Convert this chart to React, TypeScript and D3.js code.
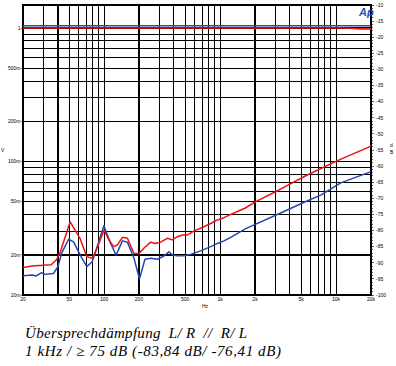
import * as d3 from "d3";

// crosstalk curves (Hz / dB, right axis)
const redFreq = [20, 24, 35, 39, 42, 51, 62, 71, 79, 87, 100, 110, 121, 130, 144, 159, 181, 200, 220, 252, 278, 307, 351, 388, 428, 473, 522, 596, 680, 830, 948, 1080, 1234, 1650, 2030, 3220, 5480, 10280, 20000];
const redDb = [-91.5, -91.0, -90.6, -89.0, -86.6, -77.3, -82.4, -88.1, -88.6, -85.5, -79.8, -82.9, -85.0, -84.5, -82.1, -82.4, -87.1, -87.1, -85.5, -83.6, -84.0, -83.6, -82.4, -82.9, -81.9, -81.4, -81.4, -80.1, -79.3, -77.8, -76.7, -76.0, -75.0, -73.0, -71.0, -67.4, -63.0, -58.3, -53.8];

const blueFreq = [20, 24, 26, 28.7, 31, 36.7, 40, 43, 49.4, 54.6, 62.3, 71, 79, 90, 99.6, 114, 127, 144, 159, 181, 202, 225, 252, 288, 328, 362, 388, 428, 488, 558, 680, 830, 948, 1080, 1234, 1664, 3220, 5480, 7380, 10970, 20000];
const blueDb = [-94.0, -93.8, -94.1, -93.1, -93.6, -93.3, -91.2, -87.1, -82.7, -83.5, -87.6, -91.2, -89.7, -83.5, -78.5, -84.0, -87.6, -83.2, -83.6, -88.6, -95.0, -88.9, -88.6, -88.9, -87.9, -86.6, -87.6, -87.8, -87.8, -87.4, -86.3, -85.0, -84.0, -83.2, -82.1, -79.4, -74.8, -71.0, -69.0, -65.2, -61.7];

// level curves (Hz / V, left axis)
const levelFreq = [20, 1000, 12000, 16000, 20000];
const levelRedV = [1.0, 1.0, 1.0, 0.985, 0.985];
const levelBlueV = [1.04, 1.04, 1.04, 1.04, 1.04];

const xTickLabels = ["20", "50", "100", "200", "500", "1k", "2k", "5k", "10k", "20k"];
const xTickValues = [20, 50, 100, 200, 500, 1000, 2000, 5000, 10000, 20000];
const vTickLabels = ["1", "500m", "200m", "100m", "50m", "20m", "10m"];
const vTickValues = [1, 0.5, 0.2, 0.1, 0.05, 0.02, 0.01];

const titleLines = ["Übersprechdämpfung  L/ R  //  R/ L", "1 kHz / ≥ 75 dB (-83,84 dB/ -76,41 dB)"];
const titleWidths = [222, 256];

const left = 23;
const right = 371;
const top = 5;
const bottom = 295;

export default function App() {
  const x = d3.scaleLog().domain([20, 20000]).range([left, right]);
  const yV = d3.scaleLog().domain([0.01, 1]).range([bottom, 28]);
  const yDb = d3.scaleLinear().domain([-100, -10]).range([bottom, top]);

  const xGrid = x.ticks().filter(f => f > 20 && f < 20000);
  const vGrid = yV.ticks().filter(v => v > 0.01);

  const dbLine = d3.line<[number, number]>().x(d => x(d[0])).y(d => yDb(d[1]));
  const vLine = d3.line<[number, number]>().x(d => x(d[0])).y(d => yV(d[1]));

  const zip = (a: number[], b: number[]) => a.map((v, i) => [v, b[i]] as [number, number]);

  const dbMajor = d3.range(-100, -9, 5);
  const dbMinor = d3.range(-100, -9, 1);

  const tiny = { fontFamily: "Liberation Sans, Arial, sans-serif", fontSize: 5, fill: "#000" };

  return (
    <svg width={396} height={366} style={{ position: "absolute", left: 0, top: 0, background: "#fff" }}>
      <rect x={0} y={0} width={396} height={366} fill="#fff" />
      <g shapeRendering="crispEdges">
        {xGrid.map(f => (
          <line key={"xg" + f} x1={x(f)} x2={x(f)} y1={top} y2={bottom}
            stroke="#000" strokeWidth={f === 40 ? 2.2 : 1.1} />
        ))}
        {vGrid.map(v => (
          <line key={"vg" + v} x1={left} x2={right} y1={yV(v)} y2={yV(v)}
            stroke="#000" strokeWidth={Math.abs(v - 0.02) < 1e-9 ? 2.2 : 1.1} />
        ))}
        <rect x={left} y={top} width={right - left} height={bottom - top} fill="none" stroke="#000" strokeWidth={1.1} />

        {/* right dB axis ticks */}
        {dbMinor.map(d => (
          <line key={"mn" + d} x1={right} x2={right + (d % 5 === 0 ? 3 : 1.5)} y1={yDb(d)} y2={yDb(d)} stroke="#000" strokeWidth={0.6} />
        ))}
        {vTickValues.map(v => (
          <line key={"vt" + v} x1={left - 2} x2={left} y1={yV(v)} y2={yV(v)} stroke="#000" strokeWidth={0.6} />
        ))}
      </g>
      {dbMajor.map(d => (
        <text key={"dl" + d} x={right + 5} y={yDb(d) + 1.8} {...tiny}>{d}</text>
      ))}

      {/* left V labels */}
      {vTickValues.map((v, i) => (
        <text key={"vl" + v} x={left - 2.5} y={yV(v) + 1.8} textAnchor="end" {...tiny}>{vTickLabels[i]}</text>
      ))}

      {/* bottom Hz labels */}
      {xTickValues.map((f, i) => (
        <text key={"xl" + f} x={x(f)} y={bottom + 6} textAnchor="middle" {...tiny}>{xTickLabels[i]}</text>
      ))}
      <text x={(left + right) / 2 + 8} y={bottom + 13} textAnchor="middle" {...tiny}>Hz</text>
      <text x={1} y={152} {...tiny}>V</text>
      <text x={390} y={147} {...tiny}>d</text>
      <text x={390} y={154} {...tiny}>B</text>

      {/* curves */}
      <path d={vLine(zip(levelFreq, levelBlueV)) || ""} fill="none" stroke="#2447b0" strokeWidth={1.6} />
      <path d={vLine(zip(levelFreq, levelRedV)) || ""} fill="none" stroke="#f01010" strokeWidth={1.6} />
      <path d={dbLine(zip(blueFreq, blueDb)) || ""} fill="none" stroke="#2447b0" strokeWidth={1.5} strokeLinejoin="round" />
      <path d={dbLine(zip(redFreq, redDb)) || ""} fill="none" stroke="#f01010" strokeWidth={1.5} strokeLinejoin="round" />

      <text x={359} y={16} fontFamily="Liberation Sans, Arial, sans-serif" fontStyle="italic" fontWeight="bold"
        fontSize={11} fill="#2a50b8">Ap</text>

      {titleLines.map((t, i) => (
        <text key={"t" + i} x={25} y={338 + i * 17.5} fontFamily="Liberation Serif, Times New Roman, serif"
          fontStyle="italic" fontSize={15} fill="#000" textLength={titleWidths[i]} lengthAdjust="spacing">
          {t.replace(/  /g, "\u00a0 ")}
        </text>
      ))}
    </svg>
  );
}
